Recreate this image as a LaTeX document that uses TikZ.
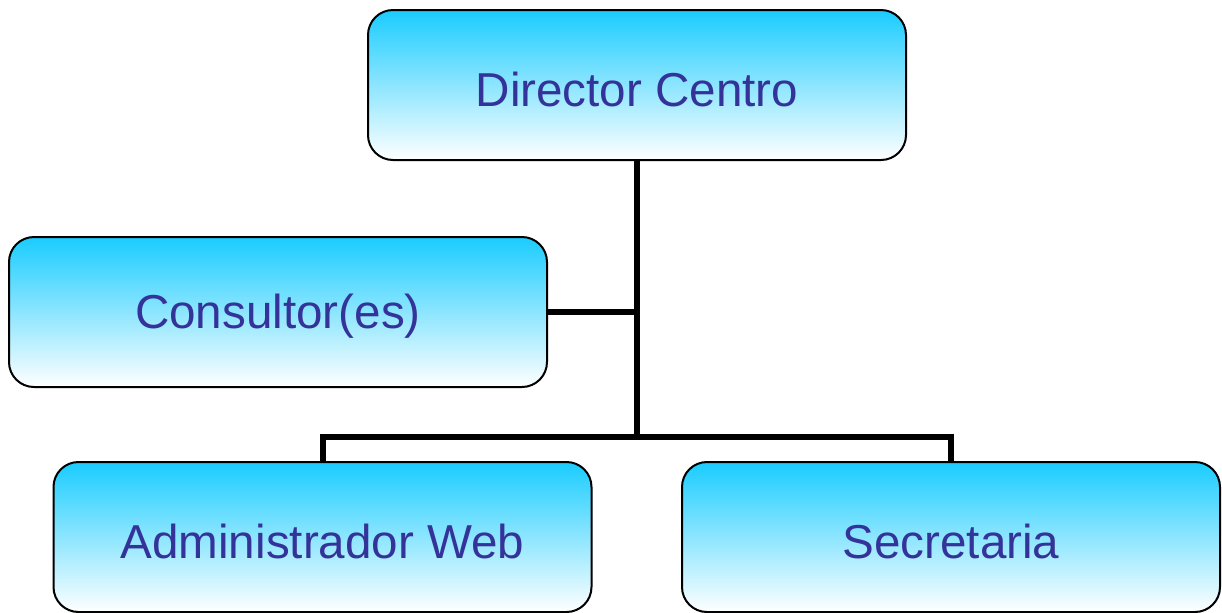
\documentclass[tikz,border=0pt]{standalone}
\usepackage{fontspec}
\setmainfont{Liberation Sans}
\definecolor{boxtop}{HTML}{1ACCFF}
\definecolor{boxtext}{HTML}{333399}

\begin{document}
\begin{tikzpicture}[x=0.5pt, y=-0.5pt,
		role/.style={rectangle, rounded corners=12.5pt, draw=black, line width=1pt,
			top color=boxtop, bottom color=white,
			minimum width=269pt, minimum height=75pt},
		label/.style={text=boxtext, font=\fontsize{23.8}{28}\selectfont, yshift=-2pt},
		link/.style={line width=3pt}]
		\useasboundingbox (0,0) rectangle (1222,612);
		
		\node[role] (dir) at (637,85) {};
		\node[role] (cons) at (278,312) {};
		\node[role] (admin) at (322.5,537) {};
		\node[role] (secr) at (951,537) {};
		\node[label] (dirtext) at (dir) {Director Centro};
		\node[label] (constext) at (cons) {Consultor(es)};
		\node[label] (admintext) at (admin) {Administrador Web};
		\node[label] (secrtext) at (secr) {Secretaria};
		\coordinate (bar) at (637,437);
		
		\draw[link] (dir.south) -- (bar);
		\draw[link] (cons.east) -- (cons.east -| dir.south);
		\draw[link] (admin.north) |- (bar) -| (secr.north);
		\end{tikzpicture}
\end{document}
